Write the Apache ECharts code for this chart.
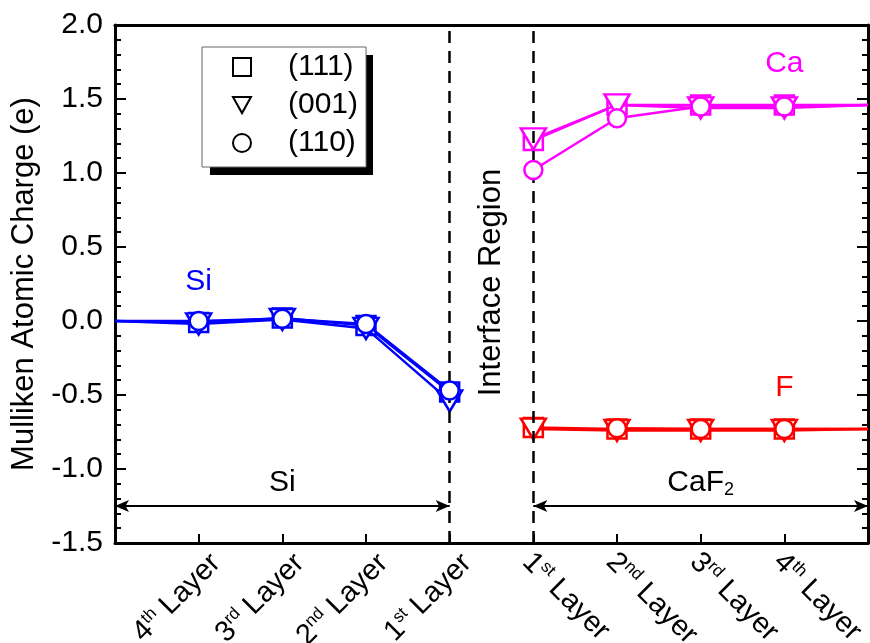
<!DOCTYPE html>
<html>
<head>
<meta charset="utf-8">
<script src="https://cdn.jsdelivr.net/npm/echarts@6/dist/echarts.min.js"></script>
<style>html,body{margin:0;padding:0;background:#fff;}#c{width:870px;height:643px;}</style>
</head>
<body>
<div id="c"></div>
<script>
// ---- data ----
const siX = [0, 1, 2, 3, 4];
const cafX = [5, 6, 7, 8, 9];
const si111 = [0.0, -0.01, 0.02, -0.03, -0.48];
const si001 = [0.0, -0.02, 0.01, -0.05, -0.54];
const si110 = [0.0, 0.0, 0.015, -0.02, -0.47];
const ca111 = [1.22, 1.46, 1.46, 1.46, 1.46];
const ca001 = [1.23, 1.46, 1.44, 1.44, 1.46];
const ca110 = [1.02, 1.37, 1.45, 1.45, 1.46];
const f111 = [-0.72, -0.73, -0.73, -0.73, -0.73];
const f001 = [-0.73, -0.74, -0.74, -0.74, -0.73];
const f110 = [null, -0.725, -0.73, -0.73, -0.73];
const siTickPos = [1, 2, 3, 4];
const siTickNum = ['4', '3', '2', '1'];
const siTickSup = ['th', 'rd', 'nd', 'st'];
const cafTickPos = [5, 6, 7, 8];
const cafTickNum = ['1', '2', '3', '4'];
const cafTickSup = ['st', 'nd', 'rd', 'th'];
const legendNames = ['(111)', '(001)', '(110)'];
const yTicks = [-1.5, -1.0, -0.5, 0.0, 0.5, 1.0, 1.5, 2.0];

const FONT = "'Liberation Sans', Arial, sans-serif";
const BLUE = '#0000ff', MAG = '#ff00ff', RED = '#ff0000';
const TRI = 'path://M0,0 L20,0 L10,18 Z';
const symbols = ['rect', TRI, 'circle'];
const symSizes = [19, [25, 21], 18];

function mkData(xs, ys, edgeIdx) {
  return xs.map((x, i) => {
    if (ys[i] === null) return null;
    const item = { value: [x, ys[i]] };
    if (edgeIdx.indexOf(i) >= 0) item.symbol = 'none';
    return item;
  }).filter(d => d !== null);
}

function lineSeries(name, xs, ys, color, k, edgeIdx) {
  return {
    type: 'line', name: name + '_' + k, xAxisIndex: 0, yAxisIndex: 0,
    data: mkData(xs, ys, edgeIdx),
    symbol: symbols[k], symbolSize: symSizes[k], showAllSymbol: true,
    lineStyle: { color: color, width: 2.5 },
    itemStyle: { color: '#fff', borderColor: color, borderWidth: 2.5 },
    z: 3 + k, animation: false, silent: true
  };
}

const series = [];
[si111, si001, si110].forEach((d, k) => series.push(lineSeries('Si', siX, d, BLUE, k, [0])));
[ca111, ca001, ca110].forEach((d, k) => series.push(lineSeries('Ca', cafX, d, MAG, k, [4])));
[f111, f001, f110].forEach((d, k) => series.push(lineSeries('F', cafX, d, RED, k, [4])));

// legend dummy series
legendNames.forEach((n, k) => series.push({
  type: 'line', name: n, data: [], symbol: symbols[k],
  itemStyle: { color: '#fff', borderColor: '#000', borderWidth: 2 },
  lineStyle: { color: '#000' }
}));

const txt = (size, color) => ({ fontFamily: FONT, fontSize: size, color: color });

// annotations & reference lines
series.push({
  type: 'scatter', data: [], xAxisIndex: 0, yAxisIndex: 0, silent: true,
  markLine: {
    silent: true, animation: false, symbol: ['none', 'none'],
    label: { show: false },
    lineStyle: { color: '#000', type: [12, 8], width: 2.5 },
    data: [{ xAxis: 4 }, { xAxis: 5 }]
  },
  markPoint: {
    silent: true, animation: false, symbolSize: 0,
    data: [
      { coord: [1, 0.265], label: { show: true, position: 'inside', formatter: 'Si', ...txt(30, BLUE) } },
      { coord: [8, 1.74], label: { show: true, position: 'inside', formatter: 'Ca', ...txt(30, MAG) } },
      { coord: [8, -0.45], label: { show: true, position: 'inside', formatter: 'F', ...txt(30, RED) } },
      { coord: [2, -1.09], label: { show: true, position: 'inside', formatter: 'Si', ...txt(30, '#000') } },
      { coord: [7, -1.09], label: { show: true, position: 'inside', formatter: '{a|CaF}{b|2}',
          rich: { a: txt(30, '#000'), b: { ...txt(18, '#000'), verticalAlign: 'bottom', padding: [16, 0, 0, 0] } } } },
      { coord: [4.5, 0.26], label: { show: true, position: 'inside', rotate: 90, formatter: 'Interface Region', ...txt(31, '#000') } }
    ]
  }
});
series.push({
  type: 'scatter', data: [], xAxisIndex: 0, yAxisIndex: 0, silent: true,
  markLine: {
    silent: true, animation: false, symbol: ['arrow', 'arrow'], symbolSize: [9, 14],
    label: { show: false },
    lineStyle: { color: '#000', type: 'solid', width: 2 },
    data: [
      [{ coord: [0, -1.25] }, { coord: [4, -1.25] }],
      [{ coord: [5, -1.25] }, { coord: [9, -1.25] }]
    ]
  }
});

function layerLabel(nums, sups, poss) {
  return function (v) {
    const i = poss.indexOf(Math.round(v * 1000) / 1000);
    if (i < 0) return '';
    return '{n|' + nums[i] + '}{s|' + sups[i] + '}{n| Layer}';
  };
}
const richLbl = {
  n: { fontFamily: FONT, fontSize: 29, color: '#000', lineHeight: 31 },
  s: { fontFamily: FONT, fontSize: 17, color: '#000', lineHeight: 17, verticalAlign: 'top' }
};

const option = {
  animation: false,
  backgroundColor: '#fff',
  grid: { left: 115, right: 2, top: 25, bottom: 100, containLabel: false, outerBoundsMode: 'none' },
  graphic: [
    { type: 'rect', left: 210, top: 55, shape: { width: 163, height: 120 }, style: { fill: '#000' }, z: -1, silent: true }
  ],
  legend: {
    show: true, data: legendNames.map((n, k) => ({ name: n, icon: k === 1 ? TRI : (k === 0 ? 'rect' : 'circle') })),
    orient: 'vertical', left: 202, top: 47,
    padding: [5, 8, 9, 30], itemGap: 8, itemWidth: 18, itemHeight: 18,
    backgroundColor: '#fff', borderColor: '#666', borderWidth: 1,
    selectedMode: false,
    itemStyle: { color: '#fff', borderColor: '#000', borderWidth: 2 },
    textStyle: { fontFamily: FONT, fontSize: 30, color: '#000', lineHeight: 30, padding: [0, 0, 0, 32] }
  },
  xAxis: [
    {
      type: 'value', min: 0, max: 9, interval: 1, position: 'bottom',
      axisLine: { show: true, onZero: false, lineStyle: { color: '#000', width: 3 } },
      axisTick: { show: true, inside: true, length: 9, lineStyle: { color: '#000', width: 2 } },
      splitLine: { show: false },
      axisLabel: { show: true, rotate: 45, margin: 14, padding: [27, -11, 0, 0],
        formatter: layerLabel(siTickNum, siTickSup, siTickPos), rich: richLbl }
    },
    {
      type: 'value', min: 0, max: 9, interval: 1, position: 'bottom',
      axisLine: { show: false }, axisTick: { show: false }, splitLine: { show: false },
      axisLabel: { show: true, rotate: -45, margin: 14, padding: [10, 0, 0, -4],
        formatter: layerLabel(cafTickNum, cafTickSup, cafTickPos), rich: richLbl }
    },
    {
      type: 'value', min: 0, max: 9, interval: 1, position: 'top',
      axisLine: { show: true, onZero: false, lineStyle: { color: '#000', width: 3 } },
      axisTick: { show: false }, axisLabel: { show: false }, splitLine: { show: false }
    }
  ],
  yAxis: [
    {
      type: 'value', min: -1.5, max: 2.0, interval: 0.5, position: 'left',
      name: 'Mulliken Atomic Charge (e)', nameLocation: 'middle', nameGap: 68,
      nameTextStyle: { fontFamily: FONT, fontSize: 31, color: '#000' },
      axisLine: { show: true, onZero: false, lineStyle: { color: '#000', width: 3 } },
      axisTick: { show: true, inside: true, length: 11, lineStyle: { color: '#000', width: 2 } },
      minorTick: { show: true, splitNumber: 5, length: 6, lineStyle: { color: '#000', width: 2 } },
      splitLine: { show: false }, minorSplitLine: { show: false },
      axisLabel: { show: true, margin: 12, fontFamily: FONT, fontSize: 30, color: '#000',
        formatter: v => { const i = yTicks.findIndex(t => Math.abs(t - v) < 1e-6); return i >= 0 ? yTicks[i].toFixed(1) : ''; } }
    },
    {
      type: 'value', min: -1.5, max: 2.0, interval: 0.5, position: 'right',
      axisLine: { show: true, onZero: false, lineStyle: { color: '#000', width: 3 } },
      axisTick: { show: true, inside: true, length: 11, lineStyle: { color: '#000', width: 2 } },
      minorTick: { show: true, splitNumber: 5, length: 6, lineStyle: { color: '#000', width: 2 } },
      splitLine: { show: false }, axisLabel: { show: false }
    }
  ],
  series: series
};

const chart = echarts.init(document.getElementById('c'), null, { renderer: 'canvas' });
chart.setOption(option);
</script>
</body>
</html>
